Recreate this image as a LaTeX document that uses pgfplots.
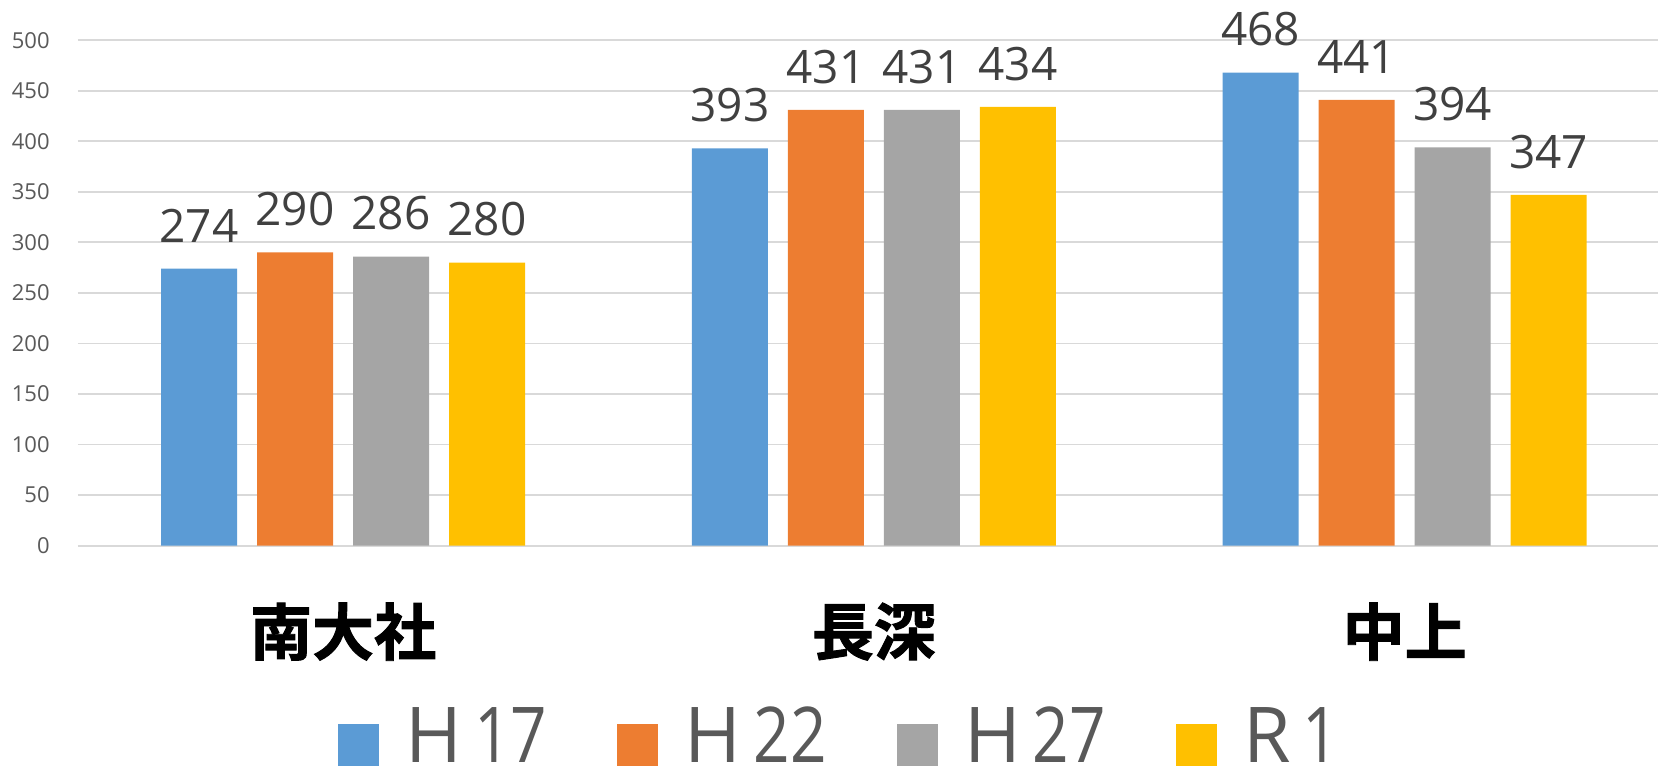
\documentclass[border=0pt]{standalone}
\usepackage{graphicx}
\usepackage{pgfplots}
\pgfplotsset{compat=1.18}
\usepackage{fontspec}
\setmainfont{Open Sans}
\newfontfamily\cjkb[FakeBold=1.5]{Noto Sans CJK JP Bold}

\definecolor{cH17}{HTML}{5B9BD5}
\definecolor{cH22}{HTML}{ED7D31}
\definecolor{cH27}{HTML}{A5A5A5}
\definecolor{cR1}{HTML}{FFC000}
\definecolor{gridc}{HTML}{D9D9D9}
\definecolor{ticktext}{HTML}{595959}
\definecolor{labeltext}{HTML}{404040}

% legend text: letter, gap, narrow digits
\newcommand{\leg}[2]{#1\hspace{6pt}\scalebox{0.83}[1]{#2}}

\begin{document}
\begin{tikzpicture}
\begin{axis}[
    scale only axis,
    width=790pt, height=252.7pt,
    ybar=10pt, bar width=38pt,
    xmin=-0.4994, xmax=2.4772,
    ymin=0, ymax=500,
    ytick={0,50,...,500},
    xtick={0,1,2},
    xticklabels={南大社,長深,中上},
    ymajorgrids,
    grid style={draw=gridc, line width=0.9pt},
    axis line style={draw=none},
    major tick length=0pt,
    /pgf/number format/assume math mode=true,
    yticklabel style={font=\fontsize{11}{13}\selectfont, text=ticktext, anchor=east,
        inner sep=0pt, xshift=-14pt},
    xticklabel style={font=\cjkb\fontsize{31}{31}\selectfont, text=black, anchor=center, yshift=-43pt},
    nodes near coords,
    every node near coord/.append style={anchor=south, inner sep=0pt, yshift=13pt,
        font=\fontsize{23}{23}\selectfont, text=labeltext},
    clip=false,
    legend columns=-1,
    legend style={at={(0.1646,-0.3945)}, anchor=west, draw=none, fill=none,
        inner sep=0pt, outer sep=0pt,
        font=\fontsize{38.5}{38.5}\selectfont, text=ticktext,
        nodes={inner sep=0pt, text height=18pt, text depth=0pt},
        /tikz/every even column/.append style={column sep=35pt},
        /tikz/every odd column/.append style={column sep=13.2pt}},
    legend image code/.code={\fill[#1,draw=none] (0pt,-10.5pt) rectangle (20.5pt,10.5pt);},
]
\addplot[fill=cH17, draw=none] coordinates {(0,274) (1,393) (2,468)};
\addplot[fill=cH22, draw=none] coordinates {(0,290) (1,431) (2,441)};
\addplot[fill=cH27, draw=none] coordinates {(0,286) (1,431) (2,394)};
\addplot[fill=cR1, draw=none] coordinates {(0,280) (1,434) (2,347)};
\legend{\leg{H}{17},\leg{H}{22},\leg{H}{27},\leg{R}{1}}
\end{axis}
\pgfresetboundingbox
\path[use as bounding box] (-39pt,-110.7pt) rectangle (790pt,272.8pt);
\end{tikzpicture}
\end{document}
